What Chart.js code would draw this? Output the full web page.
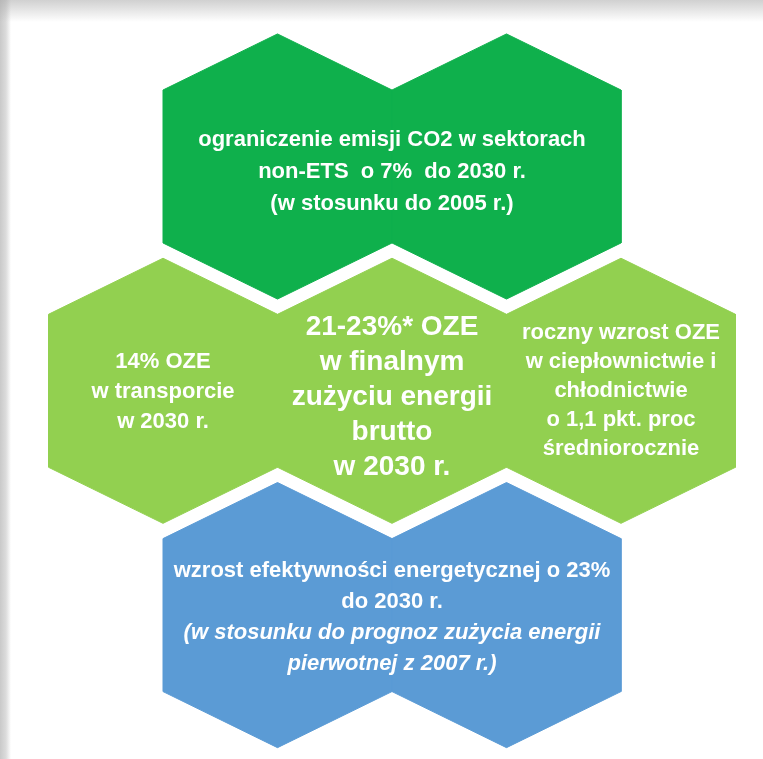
<!DOCTYPE html>
<html lang="pl">
<head>
<meta charset="UTF-8">
<title>Cele 2030</title>
<script src="https://cdn.jsdelivr.net/npm/chart.js"></script>
<style>
    html, body {
        margin: 0;
        padding: 0;
        width: 763px;
        height: 759px;
        overflow: hidden;
    }
    body {
        background:
            linear-gradient(to bottom, rgba(170,170,170,0.55) 0, rgba(255,255,255,0) 22px),
            linear-gradient(to right, #c9c9c9 0, #dcdcdc 6px, #ffffff 11px);
    }
    canvas {
        display: block;
    }
</style>
</head>
<body>
<canvas id="hexChart" width="763" height="759"></canvas>
<script>
// honeycomb cells: column (half-hex steps) and row of each hexagon
const hexCols = [1, 3, 0, 2, 4, 1, 3];
const hexRows = [0, 0, 1, 1, 1, 2, 2];

// text blocks, placed at a column / row of the same grid
const labelCols = [2, 0, 2, 4, 2];
const labelRows = [0, 1, 1, 1, 2];
const labelLines = [
    ["ograniczenie emisji CO2 w sektorach", "non-ETS  o 7%  do 2030 r.", "(w stosunku do 2005 r.)"],
    ["14% OZE", "w transporcie", "w 2030 r."],
    ["21-23%* OZE", "w finalnym", "zużyciu energii", "brutto", "w 2030 r."],
    ["roczny wzrost OZE", "w ciepłownictwie i", "chłodnictwie", "o 1,1 pkt. proc", "średniorocznie"],
    ["wzrost efektywności energetycznej o 23%", "do 2030 r.", "(w stosunku do prognoz zużycia energii", "pierwotnej z 2007 r.)"]
];

const rowColors = ["#0fb04c", "#92d050", "#5b9bd5"];

// label styling
const labelSize = [22, 22, 28, 22, 22];
const labelLineHeight = [32, 30, 35, 29, 31];
const labelShift = [5, 1, 6, 0, 2];
const labelItalicFrom = [99, 99, 99, 99, 2];

// hexagon outline in grid units (pointy top)
const HALF_W = 1.0;
const PEAK = 0.591;
const SHOULDER = 0.341;

function hexagon(c, r) {
    return [
        { x: c, y: r - PEAK },
        { x: c + HALF_W, y: r - SHOULDER },
        { x: c + HALF_W, y: r + SHOULDER },
        { x: c, y: r + PEAK },
        { x: c - HALF_W, y: r + SHOULDER },
        { x: c - HALF_W, y: r - SHOULDER },
        { x: c, y: r - PEAK }
    ];
}

const datasets = hexCols.map((c, i) => ({
    data: hexagon(c, hexRows[i]),
    showLine: true,
    fill: "shape",
    backgroundColor: rowColors[hexRows[i]],
    borderColor: rowColors[hexRows[i]],
    borderWidth: 1,
    pointRadius: 0,
    tension: 0
}));

const labelPlugin = {
    id: "hexLabels",
    afterDatasetsDraw(chart) {
        const { ctx, scales } = chart;
        ctx.save();
        ctx.fillStyle = "#ffffff";
        ctx.textAlign = "center";
        ctx.textBaseline = "middle";
        labelLines.forEach((lines, i) => {
            const cx = scales.x.getPixelForValue(labelCols[i]);
            const cy = scales.y.getPixelForValue(labelRows[i]) + labelShift[i];
            const lh = labelLineHeight[i];
            const top = cy - (lines.length - 1) * lh / 2;
            lines.forEach((line, j) => {
                const style = j >= labelItalicFrom[i] ? "italic bold " : "bold ";
                ctx.font = style + labelSize[i] + "px 'Liberation Sans', Arial, sans-serif";
                ctx.fillText(line, cx, top + j * lh);
            });
        });
        ctx.restore();
    }
};

new Chart(document.getElementById("hexChart"), {
    type: "scatter",
    data: { datasets: datasets },
    options: {
        responsive: false,
        animation: false,
        events: [],
        layout: { padding: 0 },
        plugins: {
            legend: { display: false },
            tooltip: { enabled: false }
        },
        scales: {
            x: { type: "linear", display: false, min: -1.4236, max: 5.2402 },
            y: { type: "linear", display: false, reverse: true, min: -0.7423, max: 2.6416 }
        }
    },
    plugins: [labelPlugin]
});
</script>
</body>
</html>
